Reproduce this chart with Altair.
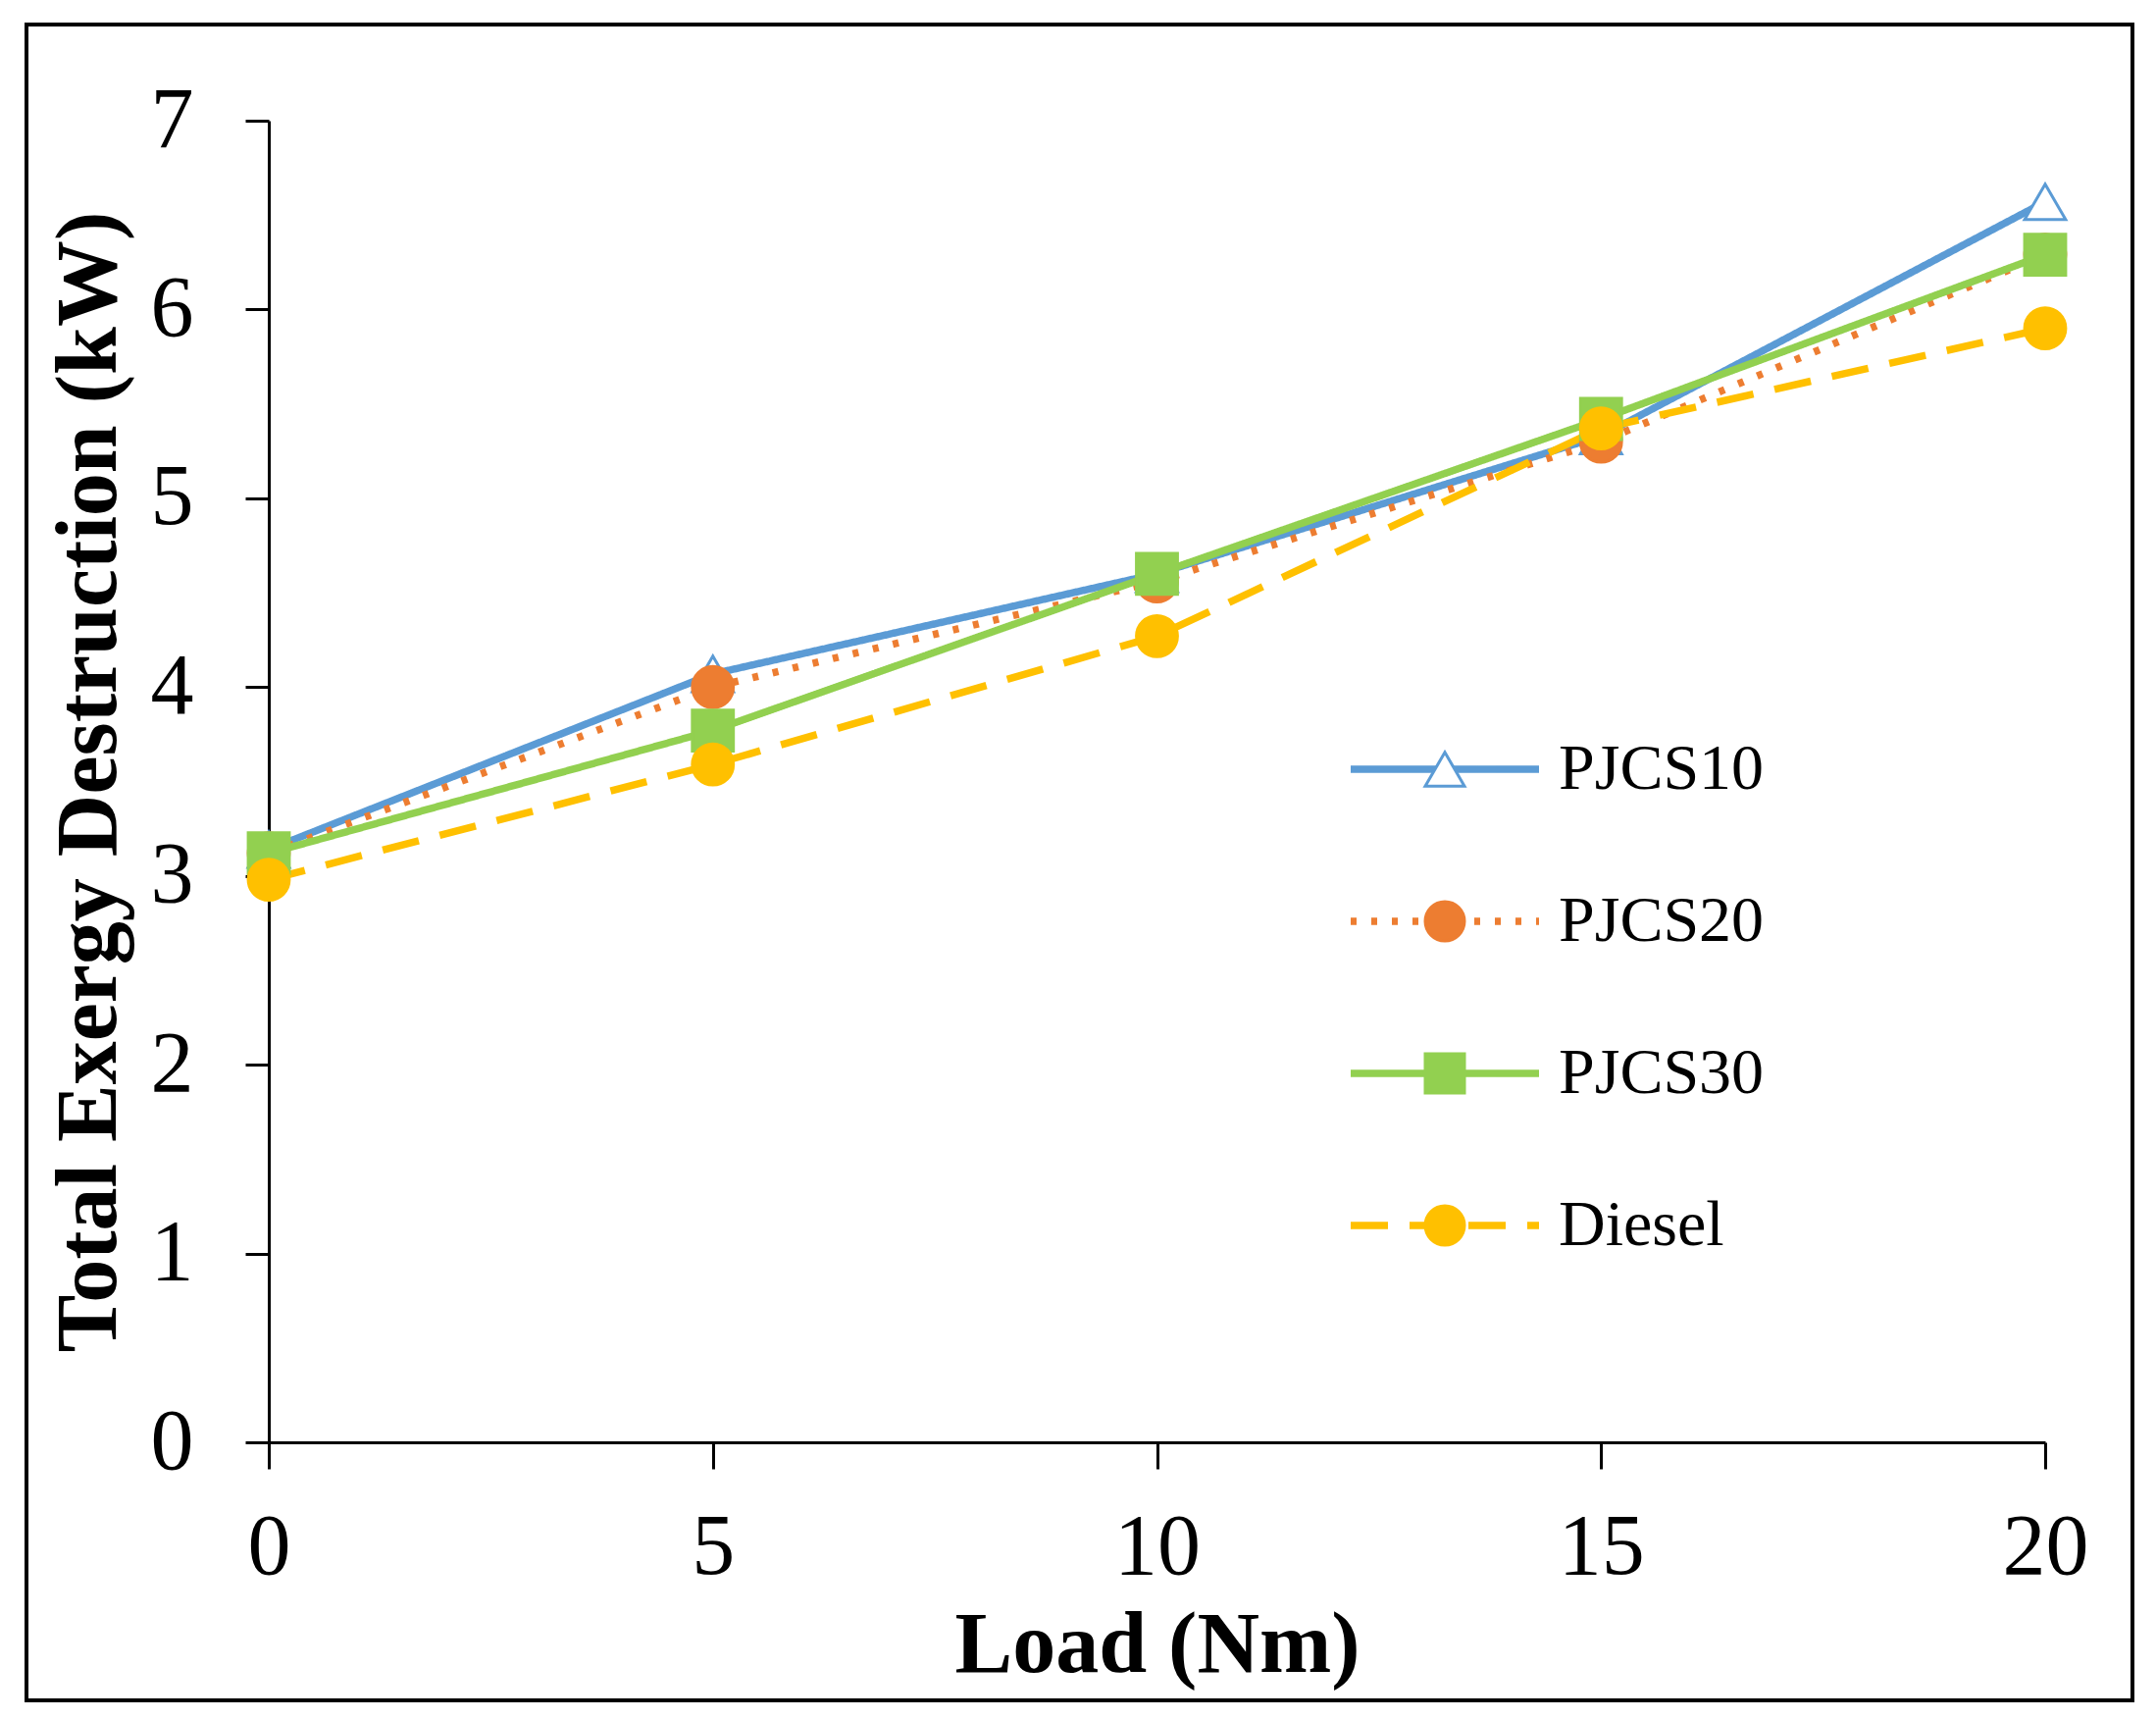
import altair as alt
import pandas as pd

LOAD = [0, 5, 10, 15, 20]
SERIES = ["PJCS10", "PJCS20", "PJCS30", "Diesel"]
PJCS10 = [3.14, 4.07, 4.60, 5.33, 6.57]
PJCS20 = [3.12, 4.00, 4.56, 5.30, 6.29]
PJCS30 = [3.12, 3.77, 4.60, 5.42, 6.29]
DIESEL = [2.98, 3.59, 4.27, 5.37, 5.90]

LINE_COLORS = ["#5B9BD5", "#ED7D31", "#92D050", "#FFC000"]
FILL_COLORS = ["#FFFFFF", "#ED7D31", "#92D050", "#FFC000"]
SHAPES = ["triangle-up", "circle", "square", "circle"]
DASHES = [[1, 0], [6, 15], [1, 0], [38, 22]]

FONT = "Liberation Serif"
W, H = 1811, 1347

# marker keys get a prefix so the point legend stays apart from the line legend
MARKERS = ["m_" + s for s in SERIES]

rows = []
for name, key, vals in zip(SERIES, MARKERS, [PJCS10, PJCS20, PJCS30, DIESEL]):
    for load, v in zip(LOAD, vals):
        rows.append({"load": load, "value": v, "series": name, "marker": key})
df = pd.DataFrame(rows)

x_axis = alt.Axis(
    values=LOAD, format="d", title="Load (Nm)", grid=False, tickSize=27, tickWidth=3,
    domainWidth=3, labelPadding=36, labelFlush=False, labelOverlap=False,
    titleY=233, titleX=W / 2, titleBaseline="alphabetic", titleAlign="center",
)
y_axis = alt.Axis(
    values=list(range(8)), format="d", title="Total Exergy Destruction (kW)",
    grid=False, tickSize=24, tickWidth=3, domainWidth=3, labelPadding=53,
    labelOverlap=False, titleX=-183, titleY=H / 2, titleAngle=270,
    titleAlign="center", titleBaseline="middle",
)

legend_common = dict(
    orient="none", direction="vertical", title=None, padding=0, labelLimit=500,
    symbolSize=1600, rowPadding=89, labelFontSize=66, labelFont=FONT,
    legendX=1166, legendY=628,
)
# line part of the legend: same rows as the marker legend, blank labels
line_legend = alt.Legend(
    symbolType="M-4.8,0H4.8", symbolStrokeWidth=7.5,
    symbolFillColor="transparent", labelExpr="' '", labelOffset=95,
    **legend_common,
)
point_legend = alt.Legend(
    symbolStrokeWidth=3, labelColor="black", symbolOpacity=1, labelOffset=83,
    labelExpr="replace(datum.label, 'm_', '')",
    **legend_common,
)

frame = (
    alt.Chart(pd.DataFrame({"f": [0]}))
    .mark_rect(filled=False, stroke="black", strokeWidth=4, clip=False)
    .encode(x=alt.value(-247), x2=alt.value(1900), y=alt.value(-98), y2=alt.value(1610))
)

lines = (
    alt.Chart(df)
    .mark_line(strokeWidth=7.5)
    .encode(
        x=alt.X("load:Q", scale=alt.Scale(domain=[0, 20], nice=False), axis=x_axis),
        y=alt.Y("value:Q", scale=alt.Scale(domain=[0, 7], nice=False), axis=y_axis),
        color=alt.Color("series:N",
                        scale=alt.Scale(domain=SERIES, range=LINE_COLORS),
                        legend=line_legend),
        strokeDash=alt.StrokeDash("series:N",
                                  scale=alt.Scale(domain=SERIES, range=DASHES),
                                  legend=line_legend),
    )
)

points = (
    alt.Chart(df)
    .mark_point(filled=True, size=1750, strokeWidth=3, opacity=1)
    .encode(
        x="load:Q",
        y="value:Q",
        shape=alt.Shape("marker:N",
                        scale=alt.Scale(domain=MARKERS, range=SHAPES),
                        legend=point_legend),
        fill=alt.Fill("marker:N",
                      scale=alt.Scale(domain=MARKERS, range=FILL_COLORS),
                      legend=point_legend),
        stroke=alt.Stroke("marker:N",
                          scale=alt.Scale(domain=MARKERS, range=LINE_COLORS),
                          legend=point_legend),
    )
)

chart = (
    alt.layer(frame, lines, points)
    .properties(
        width=W, height=H,
        autosize=alt.AutoSizeParams(type="none"),
        padding={"left": 266, "top": 115, "right": 105, "bottom": 274},
    )
    .configure_view(stroke=None)
    .configure_axis(
        labelFont=FONT, labelFontSize=88, labelColor="black",
        titleFont=FONT, titleFontSize=88, titleFontWeight="bold", titleColor="black",
        domainColor="black", tickColor="black",
    )
)

chart.save("out.html", embed_options={"renderer": "svg", "actions": False})
